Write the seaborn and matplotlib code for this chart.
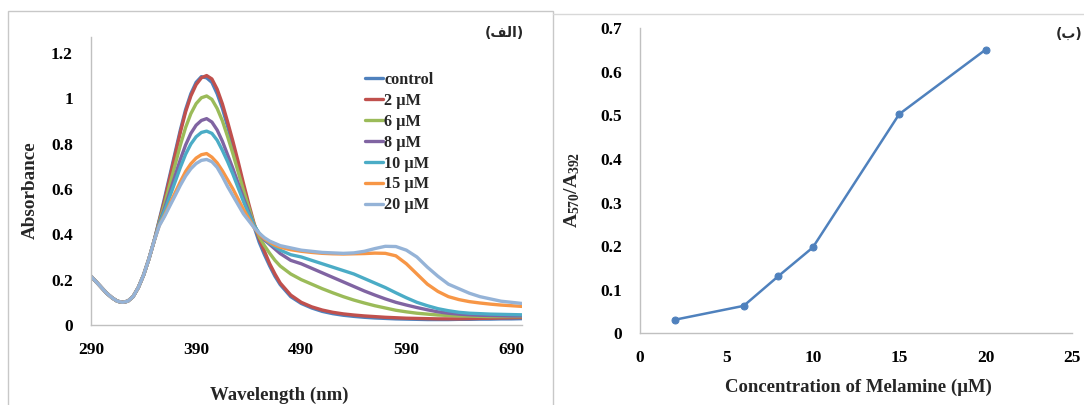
import numpy as np
import pandas as pd
import matplotlib
matplotlib.use("Agg")
import matplotlib.pyplot as plt
import seaborn as sns
from matplotlib.patches import Rectangle
from matplotlib.lines import Line2D

# ---------------- data ----------------
wavelength = [290, 295, 300, 305, 310, 315, 320, 325, 330, 335, 340, 345, 350,
              355, 360, 365, 370, 375, 380, 385, 390,
              395, 400, 405, 410, 415, 420, 425, 430, 435, 440, 445, 450, 455, 460, 465, 470,
              480, 490, 500, 510, 520, 530, 540, 550, 560, 570, 580, 590, 600, 610, 620, 630,
              640, 650, 660, 670, 680, 690, 700]

control = [0.215, 0.19, 0.165, 0.14, 0.12, 0.105, 0.10, 0.105, 0.125, 0.165, 0.22, 0.29, 0.37,
           0.465, 0.56, 0.66, 0.76, 0.86, 0.95, 1.02, 1.07, 1.095, 1.09, 1.07, 1.02, 0.955, 0.875,
           0.79, 0.70, 0.605, 0.515, 0.435, 0.365, 0.31, 0.26, 0.215, 0.178,
           0.125, 0.095, 0.075, 0.06, 0.05, 0.043, 0.038, 0.034, 0.031, 0.029, 0.027, 0.026,
           0.025, 0.024, 0.024, 0.024, 0.025, 0.025, 0.026, 0.026, 0.027, 0.027, 0.028]
um2 = [0.215, 0.19, 0.165, 0.14, 0.12, 0.105, 0.10, 0.105, 0.125, 0.165, 0.22, 0.29, 0.37,
       0.46, 0.55, 0.65, 0.75, 0.85, 0.94, 1.01, 1.06, 1.09, 1.10, 1.085, 1.04, 0.975, 0.895,
       0.81, 0.72, 0.625, 0.535, 0.45, 0.38, 0.325, 0.27, 0.225, 0.185,
       0.132, 0.10, 0.08, 0.066, 0.056, 0.049, 0.044, 0.04, 0.037, 0.034, 0.032, 0.03,
       0.029, 0.028, 0.027, 0.027, 0.027, 0.028, 0.029, 0.03, 0.031, 0.032, 0.033]
um6 = [0.215, 0.19, 0.165, 0.14, 0.12, 0.105, 0.10, 0.105, 0.125, 0.165, 0.22, 0.29, 0.37,
       0.455, 0.533, 0.62, 0.706, 0.793, 0.871, 0.932, 0.976, 1.002, 1.01, 0.995, 0.955, 0.90,
       0.83, 0.755, 0.675, 0.595, 0.52, 0.445, 0.39, 0.35, 0.316, 0.285, 0.26,
       0.225, 0.20, 0.18, 0.16, 0.142, 0.125, 0.11, 0.097, 0.085, 0.075, 0.065, 0.058,
       0.052, 0.048, 0.044, 0.042, 0.04, 0.039, 0.038, 0.037, 0.037, 0.037, 0.037]
um8 = [0.215, 0.19, 0.165, 0.14, 0.12, 0.105, 0.10, 0.105, 0.125, 0.165, 0.22, 0.29, 0.37,
       0.449, 0.514, 0.586, 0.658, 0.73, 0.794, 0.845, 0.881, 0.902, 0.91, 0.895, 0.86, 0.81,
       0.75, 0.69, 0.625, 0.56, 0.50, 0.44, 0.40, 0.375, 0.355, 0.335, 0.315,
       0.285, 0.27, 0.25, 0.23, 0.21, 0.19, 0.17, 0.15, 0.132, 0.115, 0.10, 0.088,
       0.077, 0.067, 0.058, 0.052, 0.048, 0.045, 0.043, 0.042, 0.041, 0.04, 0.04]
um10 = [0.215, 0.19, 0.165, 0.14, 0.12, 0.105, 0.10, 0.105, 0.125, 0.165, 0.22, 0.29, 0.37,
        0.446, 0.503, 0.567, 0.631, 0.695, 0.753, 0.798, 0.83, 0.849, 0.855, 0.845, 0.815, 0.77,
        0.72, 0.665, 0.605, 0.545, 0.49, 0.44, 0.405, 0.38, 0.36, 0.345, 0.33,
        0.31, 0.30, 0.285, 0.27, 0.255, 0.24, 0.225, 0.205, 0.185, 0.165, 0.142, 0.12,
        0.10, 0.085, 0.072, 0.063, 0.056, 0.052, 0.05, 0.048, 0.047, 0.046, 0.045]
um15 = [0.215, 0.19, 0.165, 0.14, 0.12, 0.105, 0.10, 0.105, 0.125, 0.165, 0.22, 0.29, 0.37,
        0.44, 0.484, 0.534, 0.583, 0.632, 0.677, 0.711, 0.736, 0.751, 0.756, 0.74, 0.715, 0.68,
        0.64, 0.60, 0.555, 0.51, 0.47, 0.43, 0.40, 0.38, 0.365, 0.352, 0.343,
        0.332, 0.325, 0.32, 0.316, 0.314, 0.313, 0.314, 0.315, 0.317, 0.316, 0.305, 0.27,
        0.225, 0.18, 0.148, 0.125, 0.112, 0.103, 0.097, 0.092, 0.088, 0.085, 0.082]
um20 = [0.215, 0.19, 0.165, 0.14, 0.12, 0.105, 0.10, 0.105, 0.125, 0.165, 0.22, 0.29, 0.37,
        0.438, 0.479, 0.525, 0.57, 0.616, 0.657, 0.689, 0.712, 0.726, 0.73, 0.72, 0.695, 0.655,
        0.61, 0.57, 0.53, 0.49, 0.46, 0.43, 0.405, 0.385, 0.37, 0.36, 0.35,
        0.34, 0.33, 0.325, 0.32, 0.318, 0.316, 0.318, 0.325, 0.337, 0.347, 0.346, 0.33,
        0.30, 0.255, 0.215, 0.18, 0.16, 0.14, 0.125, 0.115, 0.105, 0.10, 0.095]

series_labels = ["control", "2 µM", "6 µM", "8 µM", "10 µM", "15 µM", "20 µM"]
series_values = [control, um2, um6, um8, um10, um15, um20]
series_colors = ["#4F81BD", "#C0504D", "#9BBB59", "#8064A2", "#4BACC6", "#F79646", "#95B3D7"]

x_ticks_left = [290, 390, 490, 590, 690]
y_ticks_left = [0, 0.2, 0.4, 0.6, 0.8, 1.0, 1.2]
y_ticklabels_left = ["0", "0.2", "0.4", "0.6", "0.8", "1", "1.2"]

concentration = [2, 6, 8, 10, 15, 20]
ratio = [0.031, 0.063, 0.131, 0.197, 0.503, 0.651]
x_ticks_right = [0, 5, 10, 15, 20, 25]
y_ticks_right = [0, 0.1, 0.2, 0.3, 0.4, 0.5, 0.6, 0.7]
y_ticklabels_right = ["0", "0.1", "0.2", "0.3", "0.4", "0.5", "0.6", "0.7"]

# ---------------- style ----------------
sns.set_style("white")
plt.rcParams["font.family"] = ["Liberation Serif", "DejaVu Sans"]
plt.rcParams["font.weight"] = "bold"
plt.rcParams["mathtext.fontset"] = "custom"
plt.rcParams["mathtext.rm"] = "Liberation Serif:bold"
plt.rcParams["mathtext.bf"] = "Liberation Serif:bold"
plt.rcParams["mathtext.it"] = "Liberation Serif:bold"

W, H = 1084, 405
fig = plt.figure(figsize=(W / 100, H / 100), dpi=100)
fig.patch.set_facecolor("white")

ax1 = fig.add_axes([91 / W, 1 - 325 / H, 431 / W, 288 / H])
ax2 = fig.add_axes([640 / W, 1 - 333.3 / H, 432 / W, 305 / H])

# panel frames
fig.add_artist(Rectangle((8 / W, -0.02), (553 - 8) / W, (405 - 11) / H + 0.02,
                         transform=fig.transFigure, fill=False, edgecolor="#C8C8C8", lw=1))
fig.add_artist(Line2D([553 / W, 1.0], [1 - 14 / H, 1 - 14 / H],
                      transform=fig.transFigure, color="#D8D8D8", lw=1))

# ---------------- left panel ----------------
for lab, vals, col in zip(series_labels, series_values, series_colors):
    sns.lineplot(x=wavelength, y=vals, ax=ax1, color=col, lw=2.4, label=lab, sort=False)

ax1.set_xlim(290, 700)
ax1.set_ylim(0, 1.27)
ax1.set_xticks(x_ticks_left)
ax1.set_yticks(y_ticks_left)
ax1.set_yticklabels(y_ticklabels_left)
ax1.set_xlabel("")
ax1.set_ylabel("")
ax1.legend(loc="upper left", bbox_to_anchor=(365 / W, 1 - 72 / H), bbox_transform=fig.transFigure,
           frameon=False, handlelength=1.1, handletextpad=0.1, labelspacing=0.3,
           borderpad=0, borderaxespad=0, prop={"weight": "bold", "size": 11.7})

# ---------------- right panel ----------------
sns.lineplot(x=concentration, y=ratio, ax=ax2, color="#4F81BD", lw=1.8, marker="o",
             markersize=5, markeredgecolor="#4F81BD", sort=False)
ax2.set_xlim(0, 25)
ax2.set_ylim(0, 0.7)
ax2.set_xticks(x_ticks_right)
ax2.set_yticks(y_ticks_right)
ax2.set_yticklabels(y_ticklabels_right)
ax2.set_xlabel("")
ax2.set_ylabel("")

for ax in (ax1, ax2):
    for s in ("top", "right"):
        ax.spines[s].set_visible(False)
    for s in ("left", "bottom"):
        ax.spines[s].set_color("#C0C0C0")
        ax.spines[s].set_linewidth(1)
    ax.tick_params(axis="both", length=0, labelsize=12.5, colors="black")
    ax.tick_params(axis="y", pad=13)
    ax.tick_params(axis="x", pad=12)
    for t in ax.get_xticklabels() + ax.get_yticklabels():
        t.set_fontweight("bold")

# axis titles
fig.text(279 / W, 1 - 395 / H, "Wavelength (nm)", ha="center", va="center",
         fontsize=13.5, fontweight="bold")
fig.text(30 / W, 1 - 190 / H, "Absorbance", ha="center", va="center", rotation=90,
         fontsize=13.8, fontweight="bold")
fig.text(858 / W, 1 - 387 / H, "Concentration of Melamine (µM)", ha="center", va="center",
         fontsize=13.5, fontweight="bold")
fig.text(572 / W, 1 - 190 / H, r"$\mathbf{A}_{\mathbf{570}}\mathbf{/A}_{\mathbf{392}}$",
         ha="center", va="center", rotation=90, fontsize=14)

# panel tags (Arabic, visual order presentation forms)
fig.text(524 / W, 1 - 33 / H, "(\uFED2\uFEDF\uFE8D)", ha="right", va="center",
         fontsize=10, fontweight="bold", family=["DejaVu Sans"])
fig.text(1056 / W, 1 - 34 / H, "(\uFE8F)", ha="left", va="center",
         fontsize=10, fontweight="bold", family=["DejaVu Sans"])

fig.savefig("out.png", dpi=100, facecolor="white")
